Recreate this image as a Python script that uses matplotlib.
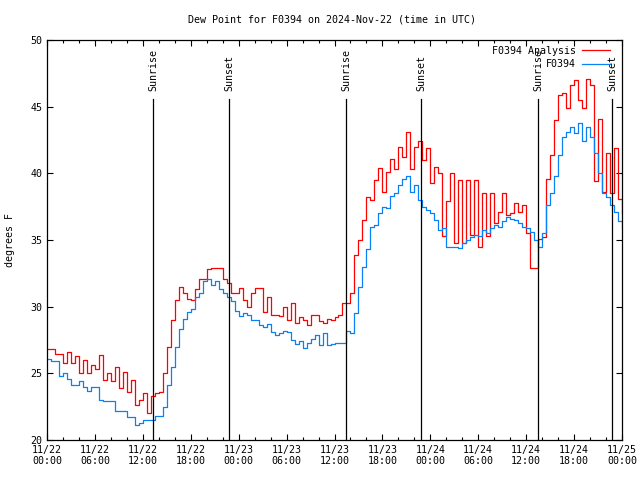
import numpy as np
import pandas as pd
import matplotlib
matplotlib.use("Agg")
import matplotlib.pyplot as plt
import matplotlib.dates as mdates
import matplotlib.transforms as mtransforms

# half-hourly samples, 2024-11-22 00:00 UTC .. 2024-11-25 00:00 UTC
times = pd.date_range("2024-11-22 00:00", periods=145, freq="30min")

analysis = [
    26.8, 26.8, 26.45, 26.45, 25.75, 26.6, 25.75, 26.3, 25.0, 26.0,
    25.0, 25.6, 25.3, 26.4, 24.5, 25.0, 24.4, 25.5, 23.9, 25.1,
    23.6, 24.5, 22.6, 23.0, 23.5, 22.0, 23.3, 23.5, 23.6, 25.0,
    27.0, 29.0, 30.5, 31.5, 31.0, 30.6, 30.5, 31.3, 32.1, 32.1,
    32.8, 32.9, 32.9, 32.9, 32.1, 31.8, 31.0, 31.0, 31.4, 30.5,
    30.0, 31.0, 31.4, 31.4, 29.6, 30.7, 29.4, 29.4, 29.3, 30.0,
    29.0, 30.25, 28.75, 29.25, 29.0, 28.6, 29.4, 29.4, 28.9, 28.75,
    29.1, 29.0, 29.25, 29.4, 30.25, 30.3, 31.0, 33.9, 35.0, 36.5,
    38.25, 38.0, 39.5, 40.4, 38.6, 40.1, 41.1, 40.3, 42.0, 41.2,
    43.1, 40.3, 42.0, 42.4, 41.0, 41.9, 39.3, 40.5, 40.0, 35.3,
    37.9, 40.0, 34.8, 39.5, 34.8, 39.5, 35.4, 39.5, 34.5, 38.5,
    35.3, 38.5, 36.3, 37.1, 38.5, 36.9, 37.0, 37.75, 37.1, 37.6,
    35.5, 32.9, 32.9, 35.1, 35.2, 39.6, 41.4, 44.0, 45.9, 46.0,
    44.9, 46.6, 47.0, 45.5, 44.9, 47.1, 46.6, 39.4, 44.1, 38.6,
    41.5, 38.5, 41.9, 38.1, 37.0,
]

observed = [
    26.1, 25.9, 25.9, 24.8, 25.0, 24.6, 24.1, 24.1, 24.4, 24.0,
    23.7, 24.0, 24.0, 23.0, 22.9, 22.9, 22.9, 22.2, 22.2, 22.2,
    21.7, 21.7, 21.1, 21.3, 21.5, 21.5, 21.5, 21.8, 21.8, 22.5,
    24.1, 25.5, 27.0, 28.3, 29.1, 29.6, 29.8, 30.7, 31.0, 31.9,
    32.1, 31.6, 31.9, 31.3, 31.0, 30.7, 30.4, 29.7, 29.3, 29.5,
    29.4, 29.0, 29.0, 28.6, 28.5, 28.7, 28.1, 27.9, 28.0, 28.2,
    28.1, 27.5, 27.2, 27.4, 26.9, 27.3, 27.6, 27.9, 27.1, 28.0,
    27.1, 27.2, 27.3, 27.3, 27.3, 28.2, 28.0, 29.5, 31.5, 33.0,
    34.3, 36.0, 36.1, 37.0, 37.5, 37.4, 38.3, 38.5, 39.1, 39.6,
    39.8, 38.6, 39.1, 38.0, 37.5, 37.25, 37.0, 36.5, 35.75, 35.9,
    34.5, 34.5, 34.5, 34.4, 34.75, 35.0, 35.25, 35.4, 35.3, 35.75,
    35.5, 35.9, 36.1, 36.0, 36.4, 36.75, 36.6, 36.5, 36.25, 36.0,
    35.9, 35.6, 35.0, 34.5, 35.5, 37.6, 38.5, 39.8, 41.4, 42.75,
    43.1, 43.5, 43.0, 43.75, 42.4, 43.5, 42.75, 41.5, 40.0, 38.5,
    38.25, 37.6, 37.1, 36.4, 35.9,
]

sun_labels = ["Sunrise", "Sunset", "Sunrise", "Sunset", "Sunrise", "Sunset"]
sun_times = pd.to_datetime([
    "2024-11-22 13:16", "2024-11-22 22:47",
    "2024-11-23 13:26", "2024-11-23 22:50",
    "2024-11-24 13:29", "2024-11-24 22:45",
])

plt.rcParams["font.family"] = "DejaVu Sans Mono"
plt.rcParams["font.size"] = 7.2

fig = plt.figure(figsize=(6.4, 4.8), dpi=100)
ax = fig.add_axes([47 / 640, 40 / 480, 575 / 640, 400 / 480])

ax.step(times, analysis, where="post", color="#ff0000", lw=0.9, label="F0394 Analysis")
ax.step(times, observed, where="post", color="#0a80f5", lw=0.9, label="F0394")

# sunrise / sunset markers
trans = mtransforms.blended_transform_factory(ax.transData, ax.transAxes)
for lab, t in zip(sun_labels, sun_times):
    ax.axvline(t, ymin=0, ymax=0.8525, color="black", lw=0.9)
    ax.text(t, 0.872, lab, transform=trans, rotation=90,
            ha="center", va="bottom")

ax.set_xlim(pd.Timestamp("2024-11-22 00:00"), pd.Timestamp("2024-11-25 00:00"))
ax.set_ylim(20, 50)
ax.set_yticks(np.arange(20, 51, 5))
ax.xaxis.set_major_locator(mdates.HourLocator(byhour=range(0, 24, 6)))
ax.xaxis.set_minor_locator(mdates.HourLocator(byhour=range(0, 24, 2)))
ax.xaxis.set_major_formatter(mdates.DateFormatter("%m/%d\n%H:%M"))
ax.tick_params(which="both", direction="in", top=True, right=True,
               colors="black", labelsize=7.2)
ax.tick_params(which="major", length=4.5, width=0.8)
ax.tick_params(which="minor", length=2.5, width=0.8)
for s in ax.spines.values():
    s.set_linewidth(0.9)

ax.set_ylabel("degrees F", labelpad=11)
fig.text(332 / 640, 1 - 20 / 480, "Dew Point for F0394 on 2024-Nov-22 (time in UTC)",
         ha="center", va="center")

ax.legend(loc="upper right", bbox_to_anchor=(0.99, 1.0), frameon=False,
          markerfirst=False, handlelength=2.8, labelspacing=0.35,
          handletextpad=0.6, borderaxespad=0.2)

fig.savefig("out.png", dpi=100)
